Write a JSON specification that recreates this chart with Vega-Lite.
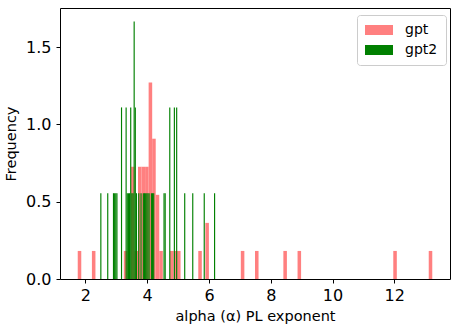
{
  "$schema": "https://vega.github.io/schema/vega-lite/v6.json",
  "width": 390,
  "height": 271,
  "autosize": {"type": "none"},
  "padding": {"left": 60, "top": 8, "right": 7, "bottom": 54},
  "background": "white",
  "config": {
    "font": "DejaVu Sans",
    "view": {"stroke": "black", "strokeWidth": 1},
    "axis": {"grid": false, "domain": false, "tickColor": "black", "tickSize": 4, "labelColor": "black", "labelFontSize": 16, "titleFontSize": 14.5, "titleFontWeight": "normal", "titleColor": "black"}
  },
  "data": {"values": [
    {"model": "gpt", "x0": 1.75, "x1": 1.8648, "density": 0.1815},
    {"model": "gpt", "x0": 2.2092, "x1": 2.324, "density": 0.1815},
    {"model": "gpt", "x0": 3.2424, "x1": 3.3572, "density": 0.1815},
    {"model": "gpt", "x0": 3.472, "x1": 3.5868, "density": 0.726},
    {"model": "gpt", "x0": 3.5868, "x1": 3.7016, "density": 0.1815},
    {"model": "gpt", "x0": 3.7016, "x1": 3.8164, "density": 0.726},
    {"model": "gpt", "x0": 3.8164, "x1": 3.9312, "density": 0.726},
    {"model": "gpt", "x0": 3.9312, "x1": 4.046, "density": 0.726},
    {"model": "gpt", "x0": 4.046, "x1": 4.1608, "density": 1.2705},
    {"model": "gpt", "x0": 4.1608, "x1": 4.2756, "density": 0.9075},
    {"model": "gpt", "x0": 4.2756, "x1": 4.3904, "density": 0.5445},
    {"model": "gpt", "x0": 4.3904, "x1": 4.5052, "density": 0.1815},
    {"model": "gpt", "x0": 4.7348, "x1": 4.8496, "density": 0.1815},
    {"model": "gpt", "x0": 4.8496, "x1": 4.9644, "density": 0.1815},
    {"model": "gpt", "x0": 4.9644, "x1": 5.0792, "density": 0.1815},
    {"model": "gpt", "x0": 5.6532, "x1": 5.768, "density": 0.1815},
    {"model": "gpt", "x0": 5.8828, "x1": 5.9976, "density": 0.363},
    {"model": "gpt", "x0": 7.0308, "x1": 7.1456, "density": 0.1815},
    {"model": "gpt", "x0": 7.49, "x1": 7.6048, "density": 0.1815},
    {"model": "gpt", "x0": 8.4084, "x1": 8.5232, "density": 0.1815},
    {"model": "gpt", "x0": 8.8676, "x1": 8.9824, "density": 0.1815},
    {"model": "gpt", "x0": 11.9672, "x1": 12.082, "density": 0.1815},
    {"model": "gpt", "x0": 13.1152, "x1": 13.23, "density": 0.1815},
    {"model": "gpt2", "x0": 2.48, "x1": 2.5172, "density": 0.555},
    {"model": "gpt2", "x0": 2.7032, "x1": 2.7404, "density": 0.555},
    {"model": "gpt2", "x0": 2.8892, "x1": 2.9264, "density": 0.555},
    {"model": "gpt2", "x0": 2.9264, "x1": 2.9636, "density": 0.555},
    {"model": "gpt2", "x0": 2.9636, "x1": 3.0008, "density": 0.555},
    {"model": "gpt2", "x0": 3.0008, "x1": 3.038, "density": 0.555},
    {"model": "gpt2", "x0": 3.1496, "x1": 3.1868, "density": 1.11},
    {"model": "gpt2", "x0": 3.2984, "x1": 3.3356, "density": 1.11},
    {"model": "gpt2", "x0": 3.3356, "x1": 3.3728, "density": 0.555},
    {"model": "gpt2", "x0": 3.3728, "x1": 3.41, "density": 0.555},
    {"model": "gpt2", "x0": 3.41, "x1": 3.4472, "density": 0.555},
    {"model": "gpt2", "x0": 3.4472, "x1": 3.4844, "density": 1.11},
    {"model": "gpt2", "x0": 3.4844, "x1": 3.5216, "density": 0.555},
    {"model": "gpt2", "x0": 3.5216, "x1": 3.5588, "density": 0.555},
    {"model": "gpt2", "x0": 3.5588, "x1": 3.596, "density": 1.665},
    {"model": "gpt2", "x0": 3.596, "x1": 3.6332, "density": 1.11},
    {"model": "gpt2", "x0": 3.6332, "x1": 3.6704, "density": 0.555},
    {"model": "gpt2", "x0": 3.7076, "x1": 3.7448, "density": 0.555},
    {"model": "gpt2", "x0": 3.782, "x1": 3.8192, "density": 0.555},
    {"model": "gpt2", "x0": 3.8564, "x1": 3.8936, "density": 0.555},
    {"model": "gpt2", "x0": 3.8936, "x1": 3.9308, "density": 0.555},
    {"model": "gpt2", "x0": 3.9308, "x1": 3.968, "density": 0.555},
    {"model": "gpt2", "x0": 3.968, "x1": 4.0052, "density": 0.555},
    {"model": "gpt2", "x0": 4.0052, "x1": 4.0424, "density": 0.555},
    {"model": "gpt2", "x0": 4.0424, "x1": 4.0796, "density": 0.555},
    {"model": "gpt2", "x0": 4.1168, "x1": 4.154, "density": 0.555},
    {"model": "gpt2", "x0": 4.154, "x1": 4.1912, "density": 0.555},
    {"model": "gpt2", "x0": 4.1912, "x1": 4.2284, "density": 0.555},
    {"model": "gpt2", "x0": 4.526, "x1": 4.5632, "density": 0.555},
    {"model": "gpt2", "x0": 4.5632, "x1": 4.6004, "density": 0.555},
    {"model": "gpt2", "x0": 4.712, "x1": 4.7492, "density": 1.11},
    {"model": "gpt2", "x0": 4.8608, "x1": 4.898, "density": 1.11},
    {"model": "gpt2", "x0": 4.9352, "x1": 4.9724, "density": 1.11},
    {"model": "gpt2", "x0": 5.1956, "x1": 5.2328, "density": 0.555},
    {"model": "gpt2", "x0": 5.456, "x1": 5.4932, "density": 0.555},
    {"model": "gpt2", "x0": 5.828, "x1": 5.8652, "density": 0.555},
    {"model": "gpt2", "x0": 6.1628, "x1": 6.2, "density": 0.555}
  ]},
  "mark": {"type": "bar", "stroke": null},
  "encoding": {
    "x": {"field": "x0", "type": "quantitative", "scale": {"domain": [1.176, 13.804], "nice": false, "zero": false},
      "axis": {"values": [2, 4, 6, 8, 10, 12], "title": "alpha (α) PL exponent", "labelPadding": 4, "titlePadding": 6, "titleFontSize": 14.5}},
    "x2": {"field": "x1"},
    "y": {"field": "density", "type": "quantitative", "stack": null, "scale": {"domain": [0, 1.753], "nice": false},
      "axis": {"values": [0, 0.5, 1, 1.5], "format": ".1f", "title": "Frequency", "labelPadding": 5, "titlePadding": 7, "titleFontSize": 14.5}},
    "y2": {"datum": 0},
    "color": {"field": "model", "type": "nominal", "scale": {"domain": ["gpt", "gpt2"], "range": ["#ff8080", "#008000"]},
      "legend": {"title": null, "orient": "none", "legendX": 297, "legendY": 7, "symbolType": "M-1,-0.714H3V0.714H-1Z", "symbolSize": 196, "symbolStrokeWidth": 0, "symbolOpacity": 1, "labelFontSize": 14, "labelColor": "black", "labelOffset": 26, "padding": 8, "rowPadding": 6, "strokeColor": "#cccccc", "cornerRadius": 3, "fillColor": "white"}},
    "order": {"field": "model", "type": "nominal"}
  }
}
